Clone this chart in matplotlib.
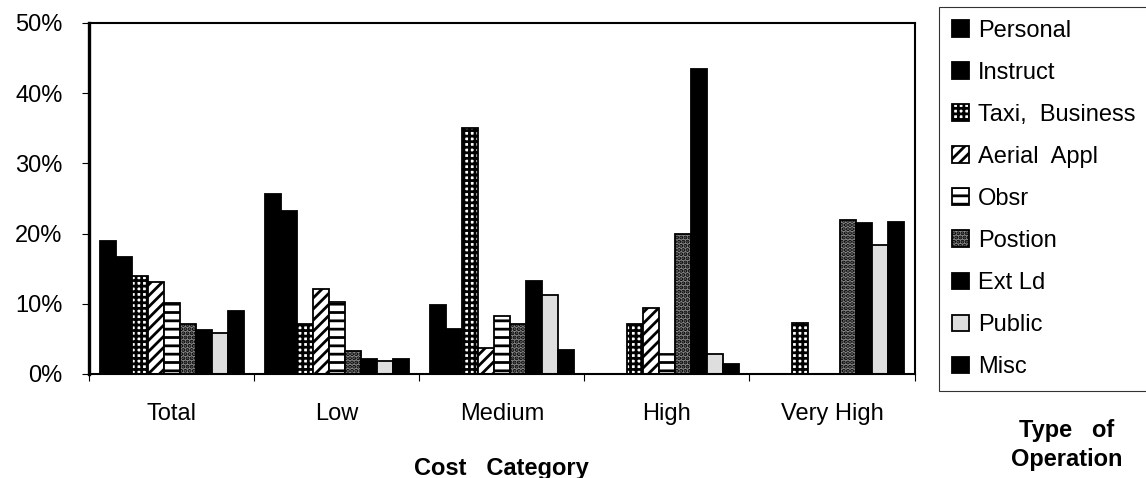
import numpy as np
import matplotlib
matplotlib.use("Agg")
import matplotlib.pyplot as plt

# cost categories on the x axis
categories = ["Total", "Low", "Medium", "High", "Very High"]

# share of accidents (%) per type of operation, one value per cost category
personal = [19.0, 25.6, 9.8, 0.0, 0.0]
instruct = [16.6, 23.2, 6.4, 0.0, 0.0]
taxi = [13.9, 7.1, 35.1, 7.1, 7.2]
aerial = [13.1, 12.1, 3.7, 9.4, 0.0]
obsr = [10.1, 10.2, 8.3, 2.9, 0.0]
postion = [7.1, 3.3, 7.1, 19.9, 21.9]
ext_ld = [6.3, 2.1, 13.3, 43.4, 21.5]
public = [5.9, 1.8, 11.3, 2.9, 18.4]
misc = [9.0, 2.1, 3.4, 1.4, 21.6]

labels = ["Personal", "Instruct", "Taxi,  Business", "Aerial  Appl", "Obsr",
          "Postion", "Ext Ld", "Public", "Misc"]
series = [personal, instruct, taxi, aerial, obsr, postion, ext_ld, public, misc]

# fill styles to imitate the black & white print
styles = [
    dict(facecolor="black", hatch=None),
    dict(facecolor="black", hatch=None),
    dict(facecolor="white", hatch="+++"),
    dict(facecolor="white", hatch="///"),
    dict(facecolor="white", hatch="--"),
    dict(facecolor="#8a8a8a", hatch="...."),
    dict(facecolor="black", hatch=None),
    dict(facecolor="#dedede", hatch=None),
    dict(facecolor="black", hatch=None),
]

plt.rcParams["font.family"] = ["Liberation Sans", "DejaVu Sans"]
plt.rcParams["font.size"] = 17
plt.rcParams["hatch.linewidth"] = 2.0

fig = plt.figure(figsize=(11.46, 4.78), dpi=100)
ax = fig.add_axes([0.0777, 0.2176, 0.7203, 0.7343])

x = np.arange(len(categories))
w = 0.097
n = len(series)
for i, (vals, lab, st) in enumerate(zip(series, labels, styles)):
    pos = x + (i - (n - 1) / 2) * w
    ax.bar(pos, vals, width=w, facecolor=st["facecolor"], hatch=st["hatch"],
           edgecolor="black", linewidth=1.3, label=lab)

ax.set_xlim(-0.5, len(categories) - 0.5)
ax.set_ylim(0, 50)
ax.set_yticks(range(0, 51, 10))
ax.set_yticklabels([f"{v}%" for v in range(0, 51, 10)])
ax.set_xticks(x)
ax.set_xticklabels(categories)
ax.set_xticks(np.arange(-0.5, len(categories)), minor=True)
ax.tick_params(axis="x", which="major", length=0, pad=21)
ax.tick_params(axis="x", which="minor", length=5, width=0.8, direction="out")
ax.tick_params(axis="y", length=5, width=0.8, direction="out", pad=14)

ax.spines["left"].set_linewidth(2.4)
for s in ["top", "right", "bottom"]:
    ax.spines[s].set_linewidth(1.5)

ax.set_xlabel("Cost   Category", fontweight="bold", labelpad=23)

leg = fig.legend(loc="upper left", bbox_to_anchor=(0.8195, 0.2, 0.2, 0.786),
                 mode="expand", frameon=True, fancybox=False, edgecolor="black",
                 handlelength=0.7, handleheight=0.7, handletextpad=0.4,
                 labelspacing=0.85, borderpad=0.55, borderaxespad=0)
leg.get_frame().set_linewidth(0.8)

fig.text(1067 / 1146, 1 - 445 / 478, "Type   of\nOperation", ha="center",
         va="center", fontweight="bold", linespacing=1.3)

fig.savefig("out.png", dpi=100)
